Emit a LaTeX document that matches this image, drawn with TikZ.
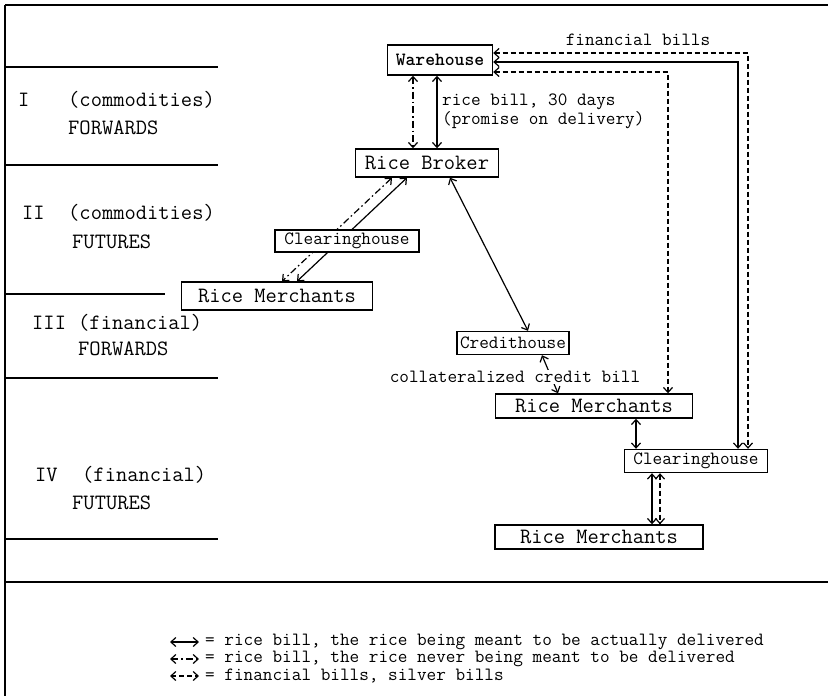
\documentclass[tikz,border=0pt]{standalone}
\usepackage{fontspec}
\usetikzlibrary{arrows.meta, positioning}
\newcommand{\bigtt}{\fontsize{21.9}{26}\selectfont\ttfamily}
\newcommand{\smalltt}{\fontsize{18.7}{19}\selectfont\ttfamily}
\tikzstyle{box} = [rectangle, draw=black, line width=1.4pt, fill=white, inner sep=0pt, minimum height=24pt, text centered]
\tikzstyle{rule} = [line width=1.4pt]
\tikzstyle{tag} = [anchor=west, inner sep=0pt, font=\bigtt]
\tikzstyle{note} = [inner sep=1pt, font=\smalltt]
\tikzstyle{rice} = [draw, <->, line width=1.2pt]
\tikzstyle{fake} = [rice, dash pattern=on 7pt off 3pt on 1.5pt off 3pt]
\tikzstyle{money} = [rice, dash pattern=on 5pt off 3pt]

\begin{document}
\begin{tikzpicture}[x=1pt, y=-1pt, >={Straight Barb[length=5pt,width=9pt]}]
    \useasboundingbox (0,0) rectangle (828,696);

    % Frame and rows
    \draw [rule] (5,5) -- (828,5);
    \draw [rule] (5,5) -- (5,696);
    \draw [rule] (5,67) -- (218,67);
    \draw [rule] (5,165) -- (218,165);
    \draw [rule] (5,294) -- (165,294);
    \draw [rule] (5,378) -- (218,378);
    \draw [rule] (5,539) -- (218,539);
    \draw [rule] (5,582) -- (828,582);

    \node (n1) [tag] at (18,100) {I};
    \node (c1) [tag] at (68,100) {(commodities)};
    \node (f1) [tag] at (68,128) {FORWARDS};
    \node (n2) [tag] at (22,213) {II};
    \node (c2) [tag] at (68,213) {(commodities)};
    \node (f2) [tag] at (72,242) {FUTURES};
    \node (n3) [tag] at (32,323) {III};
    \node (c3) [tag] at (78,323) {(financial)};
    \node (f3) [tag] at (78,349) {FORWARDS};
    \node (n4) [tag] at (35,475) {IV};
    \node (c4) [tag] at (82,475) {(financial)};
    \node (f4) [tag] at (72,503) {FUTURES};

    % Nodes
    \node (wh) [box, font=\smalltt\bfseries, minimum width=105pt, minimum height=30pt] at (440,60) {Warehouse};
    \node (rb) [box, font=\bigtt, minimum width=143pt, minimum height=28pt] at (427,163) {Rice Broker};
    \node (rm1) [box, font=\bigtt, minimum width=191pt, minimum height=28pt] at (277,296) {Rice Merchants};
    \node (cr) [box, font=\smalltt, minimum width=112pt, minimum height=23pt] at (513,343) {Credithouse};
    \node (rm2) [box, font=\bigtt, minimum width=197pt] at (594,406) {Rice Merchants};
    \node (ch2) [box, font=\smalltt, minimum width=143pt, minimum height=23pt] at (696,461) {Clearinghouse};
    \node (rm3) [box, font=\bigtt, minimum width=208pt] at (599,537) {Rice Merchants};

    % Draw edges
    \path [fake] ([xshift=-27pt]wh.south) -- ([xshift=-14pt]rb.north);
    \path [rice] ([xshift=-3pt]wh.south) -- ([xshift=10pt]rb.north);
    \path [fake] ([xshift=-35pt]rb.south) -- ([xshift=5pt]rm1.north);
    \path [rice] ([xshift=-20pt]rb.south) -- ([xshift=20pt]rm1.north);
    \node (ch1) [box, font=\smalltt, minimum width=144pt, minimum height=22pt] at (347,241) {Clearinghouse};
    \path [rice] ([xshift=23pt]rb.south) -- ([xshift=15pt]cr.north);
    \path [rice] ([xshift=29pt]cr.south) -- ([xshift=-36pt]rm2.north);
    \node (cb) [note, fill=white] at (515,377) {collateralized credit bill};
    \path [rice] ([xshift=42pt]rm2.south) -- ([xshift=-60pt]ch2.north);
    \path [rice] ([xshift=-44pt]ch2.south) -- ([xshift=53pt]rm3.north);
    \path [money] ([xshift=-36pt]ch2.south) -- ([xshift=61pt]rm3.north);
    \path [money] ([yshift=7pt]wh.east) -| ([xshift=52pt]ch2.north);
    \path [rice] ([yshift=-2pt]wh.east) -| ([xshift=42pt]ch2.north);
    \path [money] ([yshift=-12pt]wh.east) -| ([xshift=74pt]rm2.north);

    \node (fb) [note] at (638,40) {financial bills};
    \node (rb30) [note, anchor=north west, align=left] at (441,93) {rice bill, 30 days\\(promise on delivery)};

    % Key
    \node (k1) [note, anchor=west, inner sep=0pt] at (205,642) {= rice bill, the rice being meant to be actually delivered};
    \node (k2) [note, anchor=west, inner sep=0pt] at (205,659) {= rice bill, the rice never being meant to be delivered};
    \node (k3) [note, anchor=west, inner sep=0pt] at (205,676) {= financial bills, silver bills};
    \path [rice] ([xshift=-35pt]k1.west) -- ([xshift=-6pt]k1.west);
    \path [fake] ([xshift=-35pt]k2.west) -- ([xshift=-6pt]k2.west);
    \path [money] ([xshift=-35pt]k3.west) -- ([xshift=-6pt]k3.west);
\end{tikzpicture}
\end{document}
